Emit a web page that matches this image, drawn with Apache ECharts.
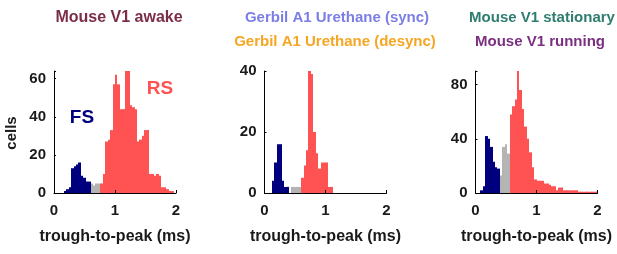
<!DOCTYPE html>
<html><head><meta charset="utf-8">
<script src="https://cdn.jsdelivr.net/npm/echarts@6/dist/echarts.min.js"></script>
<style>html,body{margin:0;padding:0;background:#fff}#c{width:617px;height:254px}</style>
</head><body><div id="c"></div>
<script>
// histogram bins: 0.04 ms wide, from 0 to 2 ms (50 bins)
const BIN_WIDTH = 0.04;
const xTickLabels = [0, 1, 2];

// Mouse V1 awake
const awakeFS = [0,0,0,0,1,2,3,13,14,15,16,9,8,6,6,0,0,0,0,0,0,0,0,0,0,0,0,0,0,0,0,0,0,0,0,0,0,0,0,0,0,0,0,0,0,0,0,0,0,0];
const awakeUN = [0,0,0,0,0,0,0,0,0,0,0,0,0,0,0,5,4,5,5,0,0,0,0,0,0,0,0,0,0,0,0,0,0,0,0,0,0,0,0,0,0,0,0,0,0,0,0,0,0,0];
const awakeRS = [0,0,0,0,0,0,0,0,0,0,0,0,0,0,0,0,0,0,0,5,10,27,28,33,57,62,57,44,44,64,64,46,45,44,27,28,30,33,33,10,10,9,10,9,3,3,2,1,1,0];

// Gerbil A1 urethane
const gerbilFS = [0,0,0,4,10,16,16,4,2,2,0,0,0,0,0,0,0,0,0,0,0,0,0,0,0,0,0,0,0,0,0,0,0,0,0,0,0,0,0,0,0,0,0,0,0,0,0,0,0,0];
const gerbilUN = [0,0,0,0,0,0,0,0,0,0,0,2,2,2,2,0,0,0,0,0,0,0,0,0,0,0,0,0,0,0,0,0,0,0,0,0,0,0,0,0,0,0,0,0,0,0,0,0,0,0];
const gerbilRS = [0,0,0,0,0,0,0,0,0,0,0,0,0,0,0,5,9,14,40,39,20,13,8,10,10,10,2,2,0,0,0,0,0,0,0,0,0,0,0,0,0,0,0,0,0,0,0,0,0,0];

// Mouse V1 stationary / running
const mouseFS = [0,0,2,5,42,40,34,23,19,18,0,0,0,0,0,0,0,0,0,0,0,0,0,0,0,0,0,0,0,0,0,0,0,0,0,0,0,0,0,0,0,0,0,0,0,0,0,0,0,0];
const mouseUN = [0,0,0,0,0,0,0,0,0,0,13,34,36,29,0,0,0,0,0,0,0,0,0,0,0,0,0,0,0,0,0,0,0,0,0,0,0,0,0,0,0,0,0,0,0,0,0,0,0,0];
const mouseRS = [0,0,0,0,0,0,0,0,0,0,0,0,0,0,58,64,69,90,76,62,49,40,30,19,10,9,9,9,7,7,6,5,5,2,4,4,2,2,2,2,2,2,1,1,1,1,1,1,1,1];

const yMax = [64, 40, 90];
const yInterval = [20, 20, 40];

const COLORS = { FS: '#00007f', UN: '#b4b4b4', RS: '#ff5252' };
const FONT = '"Liberation Sans", Arial, Helvetica, sans-serif';
const TXT = '#1a1a1a';

const panels = [
  { FS: awakeFS, UN: awakeUN, RS: awakeRS },
  { FS: gerbilFS, UN: gerbilUN, RS: gerbilRS },
  { FS: mouseFS, UN: mouseUN, RS: mouseRS }
];
const gridLefts = [54, 264.5, 475.5];

function toData(arr) {
  return arr.map((v, i) => [(i + 0.5) * BIN_WIDTH, v]).filter(d => d[1] > 0);
}
function renderBar(params, api) {
  const x = api.value(0), y = api.value(1);
  const p0 = api.coord([x - BIN_WIDTH / 2, y]);
  const p1 = api.coord([x + BIN_WIDTH / 2, 0]);
  const x0 = Math.round(p0[0]), x1 = Math.round(p1[0]);
  return {
    type: 'rect',
    shape: { x: x0, y: p0[1], width: x1 - x0, height: p1[1] - p0[1] },
    style: { fill: api.visual('color') }
  };
}

const grid = [], xAxis = [], yAxis = [], series = [];
panels.forEach((p, i) => {
  grid.push({ left: gridLefts[i], top: 71, width: 122, height: 122 });
  xAxis.push({
    type: 'value', gridIndex: i, min: xTickLabels[0], max: xTickLabels[xTickLabels.length - 1], interval: 1, z: 10,
    axisLine: { show: true, lineStyle: { color: '#000', width: 1 } },
    axisTick: { show: true, inside: true, length: 3, lineStyle: { color: '#000' } },
    splitLine: { show: false },
    axisLabel: { margin: 10, fontSize: 15, fontWeight: 'bold', color: TXT, fontFamily: FONT },
    name: 'trough-to-peak (ms)', nameLocation: 'middle', nameGap: 36,
    nameTextStyle: { fontSize: 16, fontWeight: 'bold', color: TXT, fontFamily: FONT }
  });
  const iv = yInterval[i];
  yAxis.push({
    type: 'value', gridIndex: i, min: 0, max: yMax[i], interval: iv, z: 10,
    axisLine: { show: true, lineStyle: { color: '#000', width: 1 } },
    axisTick: { show: true, inside: true, length: 2, lineStyle: { color: '#000' } },
    splitLine: { show: false },
    axisLabel: { margin: 8, fontSize: 15, fontWeight: 'bold', color: TXT, fontFamily: FONT,
      formatter: v => (v % iv === 0 ? String(v) : '') }
  });
  ['FS', 'UN', 'RS'].forEach(k => {
    series.push({
      type: 'custom', name: k, xAxisIndex: i, yAxisIndex: i,
      renderItem: renderBar, encode: { x: 0, y: 1 },
      itemStyle: { color: COLORS[k] }, data: toData(p[k]), silent: true
    });
  });
});

function txt(text, x, y, size, color, rot) {
  return { type: 'text', x: x, y: y, rotation: rot || 0, z: 20,
    style: { text: text, fill: color, font: 'bold ' + size + 'px ' + FONT,
      align: 'center', verticalAlign: 'middle', textAlign: 'center', textVerticalAlign: 'middle' } };
}

const chart = echarts.init(document.getElementById('c'), null, { renderer: 'canvas' });
chart.setOption({
  animation: false,
  backgroundColor: '#fff',
  grid: grid, xAxis: xAxis, yAxis: yAxis, series: series,
  graphic: [
    txt('Mouse V1 awake', 119, 18, 16, '#7b2d4a'),
    txt('Gerbil A1 Urethane (sync)', 337, 18, 15, '#7b7ee6'),
    txt('Gerbil A1 Urethane (desync)', 335, 42, 15, '#f5a623'),
    txt('Mouse V1 stationary', 542, 18, 15, '#2e7d6f'),
    txt('Mouse V1 running', 540, 42, 15, '#7a2f80'),
    txt('cells', 12, 133, 15, TXT, Math.PI / 2),
    txt('FS', 82, 118, 19, COLORS.FS),
    txt('RS', 160, 89, 19, COLORS.RS)
  ]
});
</script></body></html>
